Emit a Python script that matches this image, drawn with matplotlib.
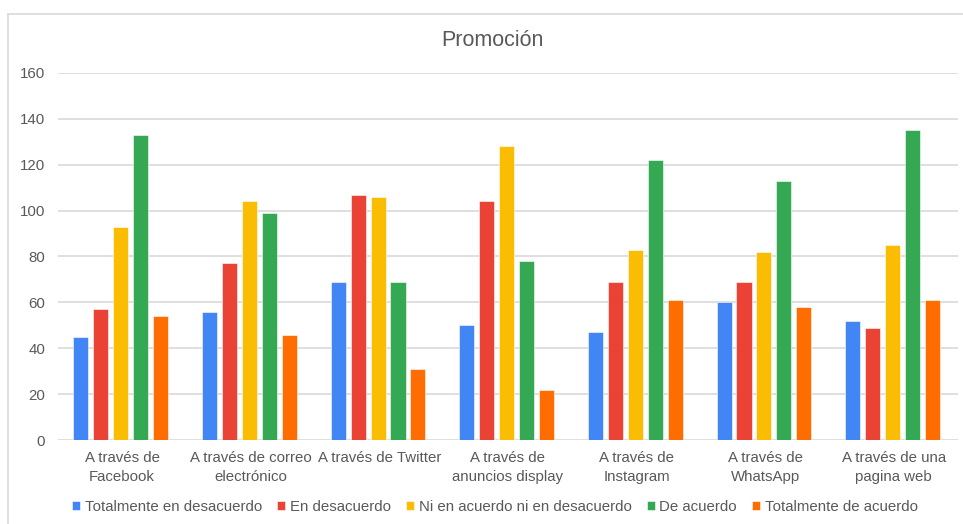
import matplotlib
matplotlib.use("Agg")
import matplotlib.pyplot as plt
from matplotlib.lines import Line2D
import numpy as np

categories = ["A través de\nFacebook", "A través de correo\nelectrónico", "A través de Twitter",
              "A través de\nanuncios display", "A través de\nInstagram", "A través de\nWhatsApp",
              "A través de una\npagina web"]
series = ["Totalmente en desacuerdo", "En desacuerdo", "Ni en acuerdo ni en desacuerdo",
          "De acuerdo", "Totalmente de acuerdo"]
tot_desacuerdo = [45, 56, 69, 50, 47, 60, 52]
en_desacuerdo = [57, 77, 107, 104, 69, 69, 49]
ni_ni = [93, 104, 106, 128, 83, 82, 85]
de_acuerdo = [133, 99, 69, 78, 122, 113, 135]
tot_acuerdo = [54, 46, 31, 22, 61, 58, 61]
colors = ["#4285F4", "#EA4335", "#FBBC04", "#34A853", "#FF6D01"]

plt.rcParams["font.family"] = ["Liberation Sans", "DejaVu Sans"]
fig = plt.figure(figsize=(9.63, 5.24), dpi=100)
ax = fig.add_axes([0.060, 0.160, 0.935, 0.701])

x = np.arange(len(categories))
pitch, width = 0.155, 0.117
values = [tot_desacuerdo, en_desacuerdo, ni_ni, de_acuerdo, tot_acuerdo]
for i, (name, vals) in enumerate(zip(series, values)):
    ax.bar(x + (i - 2) * pitch - 0.01, vals, width, color=colors[i], label=name,
           edgecolor="white", linewidth=0.4, zorder=3)

ax.set_xlim(-0.5, len(categories) - 0.5)
ax.set_ylim(0, 160)
ax.set_yticks(range(0, 161, 20))
ax.set_xticks(x)
ax.set_xticklabels(categories, linespacing=1.45)
ax.grid(axis="y", color="#d9d9d9", lw=1.2, zorder=0)
for s in ax.spines.values():
    s.set_visible(False)
ax.tick_params(length=0, labelsize=10.8, colors="#595959", pad=8)
ax.tick_params(axis="y", pad=9)

fig.text(0.511, 0.922, "Promoción", ha="center", va="center", fontsize=15.5, color="#595959")
fig.legend(loc="center", bbox_to_anchor=(0.514, 0.033), ncol=5, frameon=False, fontsize=10.8,
           handlelength=0.55, handleheight=0.55, handletextpad=0.3, columnspacing=1.0,
           labelcolor="#595959")

# chart border (cut on right and bottom)
fig.add_artist(Line2D([8 / 963, 1], [1 - 14 / 524] * 2, color="#d9d9d9", lw=1.2))
fig.add_artist(Line2D([8 / 963] * 2, [0, 1 - 14 / 524], color="#d9d9d9", lw=1.2))

fig.savefig("out.png", dpi=100)
